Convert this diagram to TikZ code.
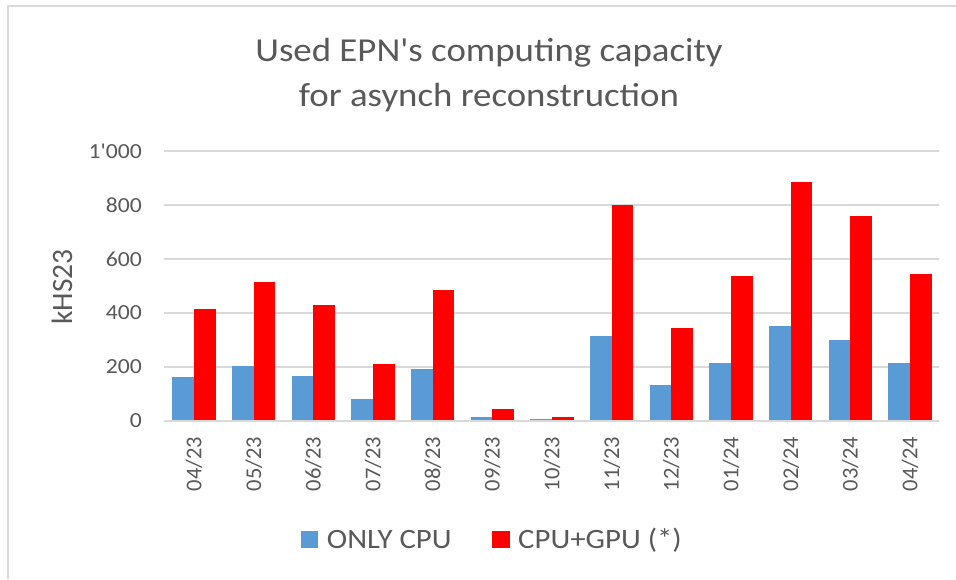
\documentclass[tikz,border=0pt]{standalone}
\usepackage{fontspec}
\newfontfamily\chartfont{Carlito}[FakeStretch=1.1]
\newfontfamily\chartrot{Carlito}
\usetikzlibrary{positioning}

\definecolor{cpublue}{HTML}{5B9BD5}
\definecolor{gpured}{HTML}{FF0000}
\definecolor{gridgray}{HTML}{D9D9D9}
\definecolor{txtgray}{HTML}{595959}

\begin{document}
\begin{tikzpicture}[x=1pt,y=1pt,
    cpu/.style={fill=cpublue},
    gpu/.style={fill=gpured},
    grid line/.style={draw=gridgray,line width=1.4pt},
    ytick/.style={anchor=east,inner sep=0pt,text=txtgray,
      font=\chartfont\fontsize{21.5}{24}\selectfont},
    xtick/.style={anchor=east,rotate=90,inner sep=0pt,text=txtgray,
      font=\chartrot\fontsize{22.5}{26}\selectfont},
    legtext/.style={anchor=base west,inner sep=0pt,text=txtgray,
      font=\chartfont\fontsize{28}{32}\selectfont}]

  % Seite und Rahmen
  \useasboundingbox[fill=white] (0,-158) rectangle (956,421);
  \draw[gridgray,line width=2pt] (956,415) -- (8,415) -- (8,-158);

  % Titel
  \node (title1) [anchor=base,inner sep=0pt,text=txtgray,
    font=\chartfont\fontsize{33.5}{40}\selectfont]
    at (489,359.3) {Used EPN's computing capacity};
  \node (title2) [anchor=base,inner sep=0pt,text=txtgray,
    font=\chartfont\fontsize{33.5}{40}\selectfont]
    at (489,314.3) {for asynch reconstruction};

  % Achsentitel
  \node (ytitle) [rotate=90,inner sep=0pt,text=txtgray,
    font=\chartrot\fontsize{29.5}{34}\selectfont]
    at (62,134) {kHS23};

  \begin{scope}[yscale=0.27]
    % Gitterlinien
    \draw[grid line] (164,200)  -- (939,200);
    \draw[grid line] (164,400)  -- (939,400);
    \draw[grid line] (164,600)  -- (939,600);
    \draw[grid line] (164,800)  -- (939,800);
    \draw[grid line] (164,1000) -- (939,1000);

    \node (y0)    [ytick] at (142,0)    {0};
    \node (y200)  [ytick] at (142,200)  {200};
    \node (y400)  [ytick] at (142,400)  {400};
    \node (y600)  [ytick] at (142,600)  {600};
    \node (y800)  [ytick] at (142,800)  {800};
    \node (y1000) [ytick] at (142,1000) {1'000};

    % Balken: ONLY CPU links, CPU+GPU rechts
    \fill[cpu] (172.3,0) rectangle (194.0,162); \fill[gpu] (194.0,0) rectangle (215.7,414);
    \fill[cpu] (232.0,0) rectangle (253.7,205); \fill[gpu] (253.7,0) rectangle (275.4,514);
    \fill[cpu] (291.6,0) rectangle (313.3,168); \fill[gpu] (313.3,0) rectangle (335.0,428);
    \fill[cpu] (351.3,0) rectangle (373.0,83);  \fill[gpu] (373.0,0) rectangle (394.7,210);
    \fill[cpu] (411.0,0) rectangle (432.7,191); \fill[gpu] (432.7,0) rectangle (454.4,485);
    \fill[cpu] (470.6,0) rectangle (492.3,16);  \fill[gpu] (492.3,0) rectangle (514.0,44);
    \fill[cpu] (530.3,0) rectangle (552.0,6);   \fill[gpu] (552.0,0) rectangle (573.7,16);
    \fill[cpu] (590.0,0) rectangle (611.7,315); \fill[gpu] (611.7,0) rectangle (633.4,799);
    \fill[cpu] (649.7,0) rectangle (671.4,134); \fill[gpu] (671.4,0) rectangle (693.1,343);
    \fill[cpu] (709.3,0) rectangle (731.0,215); \fill[gpu] (731.0,0) rectangle (752.7,538);
    \fill[cpu] (769.0,0) rectangle (790.7,353); \fill[gpu] (790.7,0) rectangle (812.4,884);
    \fill[cpu] (828.7,0) rectangle (850.4,300); \fill[gpu] (850.4,0) rectangle (872.1,760);
    \fill[cpu] (888.3,0) rectangle (910.0,215); \fill[gpu] (910.0,0) rectangle (931.7,543);

    % Nulllinie
    \draw[grid line] (164,0) -- (939,0);
  \end{scope}

  % Monate
  \node (m1)  [xtick] at (194.0,-15.7) {04/23};
  \node (m2)  [xtick] at (253.7,-15.7) {05/23};
  \node (m3)  [xtick] at (313.3,-15.7) {06/23};
  \node (m4)  [xtick] at (373.0,-15.7) {07/23};
  \node (m5)  [xtick] at (432.7,-15.7) {08/23};
  \node (m6)  [xtick] at (492.3,-15.7) {09/23};
  \node (m7)  [xtick] at (552.0,-15.7) {10/23};
  \node (m8)  [xtick] at (611.7,-15.7) {11/23};
  \node (m9)  [xtick] at (671.4,-15.7) {12/23};
  \node (m10) [xtick] at (731.0,-15.7) {01/24};
  \node (m11) [xtick] at (790.7,-15.7) {02/24};
  \node (m12) [xtick] at (850.4,-15.7) {03/24};
  \node (m13) [xtick] at (910.0,-15.7) {04/24};

  % Legende
  \fill[cpu] (300.7,-110) rectangle (318,-127.3);
  \node (cpulab) [legtext] at (326.7,-127.3) {ONLY CPU};
  \fill[gpu] (492,-110) rectangle (510,-127.3);
  \node (gpulab) [legtext] at (518,-127.3) {CPU+GPU (*)};

\end{tikzpicture}
\end{document}
